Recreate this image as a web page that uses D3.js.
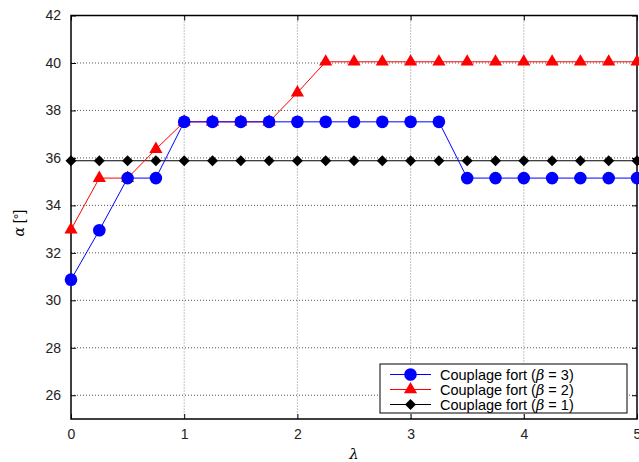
<!DOCTYPE html>
<html><head><meta charset="utf-8">
<script src="https://cdn.jsdelivr.net/npm/d3@7"></script>
<style>body{margin:0;background:#fff}svg{display:block}</style>
</head><body>
<svg id="c" width="639" height="462"></svg>
<script>
const lambda = [0,0.25,0.5,0.75,1,1.25,1.5,1.75,2,2.25,2.5,2.75,3,3.25,3.5,3.75,4,4.25,4.5,4.75,5];
const beta3 = [30.87,32.95,35.15,35.15,37.52,37.52,37.52,37.52,37.52,37.52,37.52,37.52,37.52,37.52,35.15,35.15,35.15,35.15,35.15,35.15,35.15];
const beta2 = [32.98,35.15,35.15,36.37,37.52,37.52,37.52,37.52,38.75,40.05,40.05,40.05,40.05,40.05,40.05,40.05,40.05,40.05,40.05,40.05,40.05];
const beta1 = [35.88,35.88,35.88,35.88,35.88,35.88,35.88,35.88,35.88,35.88,35.88,35.88,35.88,35.88,35.88,35.88,35.88,35.88,35.88,35.88,35.88];
const xTicks = [0,1,2,3,4,5];
const yTicks = [26,28,30,32,34,36,38,40,42];
const seriesNames = ["Couplage fort (\u03b2 = 3)","Couplage fort (\u03b2 = 2)","Couplage fort (\u03b2 = 1)"];

const svg = d3.select("#c");
const L=71, R=637, T=15.5, B=419;
const x = d3.scaleLinear().domain([0,5]).range([L,R]);
const y = d3.scaleLinear().domain([25,42]).range([B,T]);
const font = "Liberation Sans, Arial, Helvetica, sans-serif";

// grid
const g = svg.append("g");
g.selectAll(".gx").data(xTicks.slice(1,-1)).enter().append("line")
 .attr("x1",d=>x(d)).attr("x2",d=>x(d)).attr("y1",T).attr("y2",B)
 .attr("stroke","#888").attr("stroke-width",1).attr("stroke-dasharray","1,2");
g.selectAll(".gy").data(yTicks.filter(d=>d<42)).enter().append("line")
 .attr("x1",L).attr("x2",R).attr("y1",d=>y(d)).attr("y2",d=>y(d))
 .attr("stroke","#555").attr("stroke-width",1).attr("stroke-dasharray","1,2");

// axes
const ax = d3.axisBottom(x).tickValues(xTicks).tickSize(-5).tickPadding(10).tickFormat(d3.format("d"));
const ay = d3.axisLeft(y).tickValues(yTicks).tickSize(-5).tickPadding(10).tickFormat(d3.format("d"));
const axT = d3.axisTop(x).tickValues(xTicks).tickSize(-5).tickFormat("");
const ayR = d3.axisRight(y).tickValues(yTicks).tickSize(-5).tickFormat("");
function styleAxis(s){ s.select(".domain").remove(); s.selectAll("line").attr("stroke","#000");
  s.selectAll("text").attr("font-family",font).attr("font-size",14).attr("fill","#222"); }
svg.append("g").attr("transform",`translate(0,${B})`).call(ax).call(styleAxis);
svg.append("g").attr("transform",`translate(${L},0)`).call(ay).call(styleAxis);
svg.append("g").attr("transform",`translate(0,${T})`).call(axT).call(styleAxis);
svg.append("g").attr("transform",`translate(${R},0)`).call(ayR).call(styleAxis);
svg.append("rect").attr("x",L).attr("y",T).attr("width",R-L).attr("height",B-T)
 .attr("fill","none").attr("stroke","#000").attr("stroke-width",1.5);

// labels
svg.append("text").attr("x",x(2.5)).attr("y",459).attr("text-anchor","middle")
 .attr("font-family","DejaVu Serif, serif").attr("font-style","italic").attr("font-size",15).text("\u03bb");
svg.append("text").attr("transform",`translate(24,${y(33.25)}) rotate(-90)`).attr("text-anchor","middle")
 .attr("font-family",font).attr("font-size",14)
 .html('<tspan font-style="italic" font-family="DejaVu Serif, serif">\u03b1</tspan> [\u00b0]');

// series
const diamond = {draw(ctx,size){const r=Math.sqrt(size/2); ctx.moveTo(0,-r); ctx.lineTo(r,0); ctx.lineTo(0,r); ctx.lineTo(-r,0); ctx.closePath();}};
const series = [
 {vals:beta3, color:"#0000ff", sym:d3.symbolCircle, size:125},
 {vals:beta2, color:"#ff0000", sym:d3.symbolTriangle, size:75},
 {vals:beta1, color:"#000000", sym:diamond, size:60}
];
const line = d3.line().x((d,i)=>x(lambda[i])).y(d=>y(d));
[2,1,0].forEach(k=>{
  const s=series[k];
  svg.append("path").datum(s.vals).attr("d",line).attr("fill","none").attr("stroke",s.color).attr("stroke-width",1);
});
[2,1,0].forEach(k=>{
  const s=series[k];
  svg.append("g").selectAll("path").data(s.vals).enter().append("path")
   .attr("d",d3.symbol().type(s.sym).size(s.size))
   .attr("transform",(d,i)=>`translate(${x(lambda[i])},${y(d)})`)
   .attr("fill",s.color);
});

// legend
const lg = svg.append("g");
lg.append("rect").attr("x",380).attr("y",364).attr("width",247).attr("height",49)
 .attr("fill","#fff").attr("stroke","#000").attr("stroke-width",1);
series.forEach((s,i)=>{
  const yy = 374.5 + i*15;
  lg.append("line").attr("x1",390).attr("x2",431).attr("y1",yy).attr("y2",yy).attr("stroke",s.color).attr("stroke-width",1);
  lg.append("path").attr("d",d3.symbol().type(s.sym).size(s.size)).attr("transform",`translate(410.5,${yy})`).attr("fill",s.color);
  const t = lg.append("text").attr("x",440).attr("y",yy+5).attr("font-family",font).attr("font-size",14.5).attr("fill","#000");
  const nm = seriesNames[i];
  const p = nm.indexOf("\u03b2");
  t.append("tspan").text(nm.slice(0,p));
  t.append("tspan").attr("font-style","italic").attr("font-family","DejaVu Serif, serif").text("\u03b2");
  t.append("tspan").text(nm.slice(p+1));
});
</script>
</body></html>
